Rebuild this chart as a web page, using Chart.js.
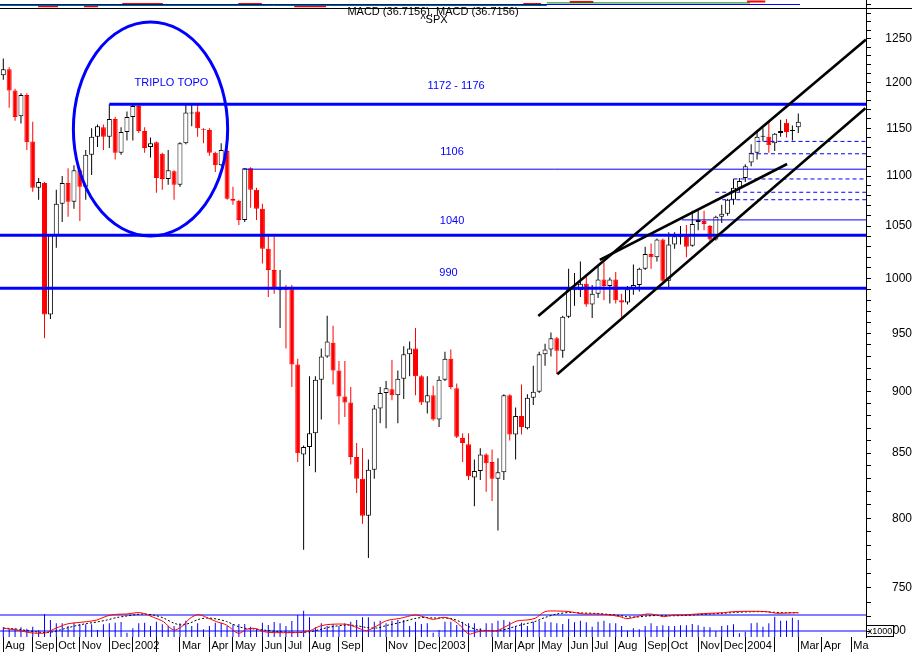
<!DOCTYPE html>
<html>
<head>
<meta charset="utf-8">
<title>^SPX weekly</title>
<style>
html,body{margin:0;padding:0;background:#ffffff;overflow:hidden;}
canvas{display:block;}
</style>
<script src="https://cdn.jsdelivr.net/npm/chart.js@4.4.1/dist/chart.umd.min.js"></script>
</head>
<body>
<canvas id="chart" width="912" height="652"></canvas>
<script>
// ---------------- DATA (weekly ^SPX, Aug 2001 - Mar 2004) ----------------
const openP = [1208,1215,1191,1163,1186,1136,1088,1093,967,1041,
 1072,1093,1074,1106,1089,1122,1141,1151,1141,1160,
 1124,1146,1162,1174,1147,1130,1135,1123,1097,1105,
 1091,1134,1166,1168,1149,1148,1124,1111,1126,1077,
 1075,1056,1108,1086,1067,1028,1008,989,990,990,
 923,849,855,866,910,930,942,918,896,891,
 847,830,802,837,886,899,902,897,911,932,
 937,913,891,897,877,910,928,903,862,857,
 831,836,849,843,830,835,897,865,880,870,
 895,900,932,936,946,935,965,989,989,995,
 976,986,999,993,999,980,978,990,994,1009,
 1023,1020,1037,998,1032,1039,1042,1031,1054,1055,
 1050,1037,1059,1062,1076,1088,1098,1114,1124,1141,
 1141,1134,1145,1156,1147,1151];
const highP = [1227,1217,1193,1188,1188,1157,1098,1094,1042,1086,
 1100,1108,1111,1108,1127,1150,1154,1154,1176,1162,
 1151,1168,1177,1176,1151,1140,1136,1124,1127,1106,
 1135,1176,1176,1176,1150,1150,1125,1134,1127,1089,
 1076,1108,1109,1088,1072,1040,1040,1008,994,994,
 928,856,913,913,937,966,957,926,926,904,
 858,854,845,889,904,909,927,918,939,943,
 955,914,913,905,913,934,936,907,866,866,
 845,854,850,853,846,898,898,887,906,898,
 922,934,941,951,947,966,1009,1005,1016,1002,
 994,1011,1015,1001,1006,986,993,1013,1010,1030,
 1033,1038,1038,1044,1044,1050,1051,1065,1065,1065,
 1051,1060,1071,1077,1097,1098,1112,1133,1148,1150,
 1157,1145,1159,1160,1153,1166];
const lowP = [1203,1172,1158,1155,1127,1084,1076,946,963,1029,
 1054,1059,1067,1055,1076,1101,1130,1127,1129,1117,
 1122,1137,1137,1145,1124,1119,1083,1086,1091,1076,
 1089,1133,1152,1141,1134,1121,1104,1110,1076,1071,
 1051,1054,1068,1056,1014,983,986,955,937,904,
 843,777,840,835,877,929,906,873,879,841,
 819,796,771,830,874,870,893,874,894,913,
 897,889,882,876,871,909,902,862,843,829,
 809,829,820,813,791,829,860,845,865,869,
 889,899,922,930,915,929,964,975,983,974,
 964,982,980,977,977,964,976,985,988,1008,
 1009,1016,997,992,1028,1032,1020,1030,1046,1046,
 1034,1036,1053,1060,1071,1084,1094,1110,1117,1136,
 1124,1126,1141,1140,1137,1145];
const closeP = [1215,1191,1162,1186,1135,1088,1094,967,1041,1072,
 1093,1074,1106,1089,1122,1141,1152,1141,1160,1124,
 1146,1162,1174,1147,1129,1134,1098,1097,1106,1091,
 1134,1167,1167,1150,1148,1124,1111,1127,1077,1075,
 1056,1108,1086,1067,1028,1008,990,990,989,923,
 850,855,866,910,930,943,918,896,891,847,
 830,802,837,886,899,903,897,911,932,937,
 913,891,897,877,910,928,904,863,858,832,
 836,849,842,830,835,897,865,880,871,895,
 900,932,936,946,935,965,990,990,995,976,
 986,999,993,999,980,978,990,994,1009,1023,
 1020,1037,998,1032,1040,1040,1030,1052,1056,1052,
 1037,1059,1062,1076,1088,1095,1110,1124,1141,1142,
 1132,1144,1147,1146,1148,1157];
const volume = [29,24,26,29,25,31,20,69,51,41,
 41,33,43,38,38,38,21,38,41,43,
 45,13,26,41,43,33,46,38,33,33,
 41,49,33,41,23,33,43,43,33,38,
 39,39,31,23,43,36,45,41,33,48,
 66,79,59,29,41,33,39,33,41,46,
 51,59,59,46,49,41,49,51,51,33,
 46,39,41,13,21,46,46,36,46,41,
 41,26,41,41,49,51,46,33,43,33,
 46,49,46,44,41,39,54,44,49,44,
 31,46,49,41,41,33,19,26,23,33,
 41,33,35,33,33,35,35,39,35,31,
 29,18,33,35,38,11,16,41,43,31,
 41,61,49,49,58,51];
const macdIdx = [0,1.1,2.8,4.5,6.2,7.4,8.5,9.6,10.8,12.5,14.2,15.9,17.6,19.3,21,22.7,23.8,25.5,27.2,28.9,
 30.3,31.7,33.1,34.5,36.2,37.9,39.9,41.3,42.7,44.2,46.4,48.7,50.4,52.1,53.8,55.5,58.3,60,61.7,63.4,
 65.1,67.4,69.9,71.3,73,74.7,76,77.5,79,80.4,82.1,83.8,85.5,87.2,88.9,90.3,92,94,96.2,98.5,
 100.8,103,104.7,105.9,107.6,109.3,111,112.1,113.8,115.5,117.7,120,122.3,124,126.8,129.6,131.3,133,135];
const macdLine = [5.3,4,0.7,-3.3,-4.7,-3.3,3.3,8.7,14,16.7,18.7,22,30,33.4,34,36.7,35.4,27.3,18.7,2,
 8.7,25.3,32.7,27.3,18.7,12,-4.7,3.3,5.3,-1.3,-3.3,-3.3,-2.7,0.7,10,13.3,13.3,7.3,0.7,10,
 20.7,25.3,32,28.7,23.3,27.3,24,12,-6,-2,0.7,0.7,10,20,22,25.3,38.7,40,38.7,34,
 34,32,28.7,24.7,28.7,34,32,28.7,32,32,34,35.4,36.7,38.7,39.4,38.7,35.4,36,36.7];
const signalLine = [6,5,3,0,-2.5,-3,-1.5,2,6,11,15,18,22,27,30,33,34,32,26,16,
 12,16,23,26,24,19,9,5,4,2,-1,-2.5,-3,-1.5,3,8,12,10.5,7,6,
 11,17,25,27,26,26,25,19,9,3,1,0.5,4,10,15,19,27,34,37,36,
 35,33,31,28.5,28,30,31,30.5,30.5,31,32.5,34,35.5,37,38.5,38.5,37,36.5,36.5];
const macdLevels = [0, 32];

const monthTickIdx = [0,5,9,13,18,22,26,30,35,39,44,48,52,57,61,65,70,74,79,83,87,91,96,100,104,109,113,118,122,126,131,135,139,144];
const monthTickLabels = ['Aug','Sep','Oct','Nov','Dec','2002','','Mar','Apr','May','Jun','Jul','Aug','Sep','','Nov','Dec','2003','','Mar','Apr','May','Jun','Jul','Aug','Sep','Oct','Nov','Dec','2004','','Mar','Apr','Ma'];
const priceTickVals = [720,730,740,750,760,770,780,790,800,810,820,830,840,850,860,870,880,890,900,910,920,930,940,950,960,970,980,990,
 1000,1010,1020,1030,1040,1050,1060,1070,1080,1090,1100,1110,1120,1130,1140,1150,1160,1170,1180,1190,1200,1210,1220,1230,1240,1250,1260,1270,1280,1290];
const priceLabelVals = [750,800,850,900,950,1000,1050,1100,1150,1200,1250];

// support / resistance levels
const levelValues   = [1176, 1107, 1041, 991, 1056, 1136, 1123, 1097, 1083.5, 1076];
const levelStartIdx = [18, 40.7, -0.56, -0.56, 115.2, 127.9, 126.8, 124, 120.9, 120.9];
// trend lines
const trendStartIdx = [90.85, 94.07, 101.3];
const trendStartVal = [965.7, 914.7, 1017.4];
const trendEndIdx   = [146.5, 146.4, 133.1];
const trendEndVal   = [1249, 1171.5, 1112.4];
// annotations
const annoText = ['TRIPLO TOPO', '1172 - 1176', '1106', '1040', '990'];
const annoIdx  = [28.56, 76.9, 76.2, 76.2, 75.6];
const annoVal  = [1200, 1196, 1125, 1055, 1005];
// ellipse "triplo topo": centre week, half-width in weeks, top value, bottom value
const ellipseIdx = [25.0, 13.1];
const ellipseVal = [1269.5, 1040.3];
// small MACD strip at the top
const topRedFrom  = [5.9, 13.7, 49.4, 20.2, 39.9, 88.3, 96.2, 126.3];
const topRedTo    = [9.3, 16.1, 54.8, 27.1, 43.9, 91.3, 100.2, 129.4];
const topRedLevel = [-1.8, -1.8, -1.8, 0.4, 0.4, 0.4, 2.5, 3];

// ---------------- CHART ----------------
const FONT = '"Liberation Sans", Arial, Helvetica, sans-serif';
Chart.defaults.font.family = FONT;
const X_MIN = -0.56, X_MAX = 146.5;
const Y_MIN = 716.4, Y_MAX = 1295.7;
const BLUE = '#0000ff', RED = '#ff0000';

const idx = openP.map((_, i) => i);
const up = idx.map(i => closeP[i] >= openP[i]);

const datasets = [];

// trend lines
trendStartIdx.forEach((s, k) => datasets.push({
  type: 'line', yAxisID: 'y', order: 1,
  data: [{x: s, y: trendStartVal[k]}, {x: trendEndIdx[k], y: trendEndVal[k]}],
  borderColor: '#000', borderWidth: 2.6, pointRadius: 0, tension: 0
}));

// levels
const levelStyle = [
  {w: 3}, {w: 1}, {w: 3}, {w: 3}, {w: 1},
  {w: 1, dash: [4, 3]}, {w: 1, dash: [4, 3]}, {w: 1, dash: [4, 3]}, {w: 1, dash: [4, 3]}, {w: 1, dash: [4, 3]}
];
levelValues.forEach((v, k) => datasets.push({
  type: 'line', yAxisID: 'y', order: 2,
  data: [{x: levelStartIdx[k], y: v}, {x: X_MAX, y: v}],
  borderColor: BLUE, borderWidth: levelStyle[k].w, borderDash: levelStyle[k].dash || [],
  pointRadius: 0, tension: 0
}));

// candle bodies
datasets.push({
  type: 'bar', yAxisID: 'y', order: 4, grouped: false,
  data: idx.map(i => ({x: i, y: [openP[i], closeP[i]]})),
  backgroundColor: idx.map(i => up[i] ? '#ffffff' : RED),
  borderColor: idx.map(i => up[i] ? '#000000' : RED),
  borderWidth: 1, borderSkipped: false, barThickness: 5, inflateAmount: 0
});
// candle wicks
datasets.push({
  type: 'bar', yAxisID: 'y', order: 5, grouped: false,
  data: idx.map(i => ({x: i, y: [lowP[i], highP[i]]})),
  backgroundColor: idx.map(i => up[i] ? '#000000' : RED),
  borderWidth: 0, barThickness: 1, inflateAmount: 0
});

// top strip
datasets.push({
  type: 'line', yAxisID: 'yTop', order: 6,
  data: [{x: X_MIN, y: 0}, {x: 135.3, y: 0}],
  borderColor: BLUE, borderWidth: 1, pointRadius: 0
});
datasets.push({
  type: 'line', yAxisID: 'yTop', order: 6, spanGaps: false,
  data: [{x: X_MIN, y: -1}, {x: 92.3, y: -1}, {x: 92.3, y: null}, {x: 92.3, y: 1.6}, {x: 126.8, y: 1.6}],
  borderColor: '#008000', borderWidth: 1, pointRadius: 0
});
(function () {
  const pts = [];
  topRedFrom.forEach((f, k) => {
    pts.push({x: f, y: topRedLevel[k]}, {x: topRedTo[k], y: topRedLevel[k]}, {x: topRedTo[k], y: null});
  });
  pts.sort((a, b) => a.x - b.x || (a.y === null ? 1 : -1));
  datasets.push({
    type: 'line', yAxisID: 'yTop', order: 6, spanGaps: false,
    data: (function () {
      const out = [];
      topRedFrom.map((f, k) => k).sort((a, b) => topRedFrom[a] - topRedFrom[b]).forEach(k => {
        out.push({x: topRedFrom[k], y: topRedLevel[k]}, {x: topRedTo[k], y: topRedLevel[k]}, {x: topRedTo[k], y: null});
      });
      return out;
    })(),
    borderColor: RED, borderWidth: 2, pointRadius: 0
  });
})();

// MACD panel
datasets.push({
  type: 'line', yAxisID: 'yMacd', order: 7,
  data: macdIdx.map((v, k) => ({x: v, y: macdLine[k]})),
  borderColor: RED, borderWidth: 1, pointRadius: 0, tension: 0.3
});
datasets.push({
  type: 'line', yAxisID: 'yMacd', order: 7,
  data: macdIdx.map((v, k) => ({x: v, y: signalLine[k]})),
  borderColor: '#000', borderWidth: 1, borderDash: [2, 2], pointRadius: 0, tension: 0.3
});
macdLevels.forEach(v => datasets.push({
  type: 'line', yAxisID: 'yMacd', order: 8,
  data: [{x: X_MIN, y: v}, {x: X_MAX, y: v}],
  borderColor: BLUE, borderWidth: 1, pointRadius: 0
}));
// volume
datasets.push({
  type: 'bar', yAxisID: 'yVol', order: 9, grouped: false,
  data: idx.map(i => ({x: i, y: volume[i]})),
  backgroundColor: BLUE, borderWidth: 0, barThickness: 1, inflateAmount: 0
});

const overlay = {
  id: 'overlay',
  afterDatasetsDraw(chart) {
    const {ctx, scales: {x, y}} = chart;
    ctx.save();
    const cx = x.getPixelForValue(ellipseIdx[0]);
    const rx = x.getPixelForValue(ellipseIdx[0] + ellipseIdx[1]) - cx;
    const top = y.getPixelForValue(ellipseVal[0]);
    const bot = y.getPixelForValue(ellipseVal[1]);
    ctx.beginPath();
    ctx.ellipse(cx, (top + bot) / 2, rx, (bot - top) / 2, 0, 0, Math.PI * 2);
    ctx.strokeStyle = BLUE; ctx.lineWidth = 3; ctx.stroke();
    ctx.fillStyle = BLUE;
    ctx.font = '11px ' + FONT;
    ctx.textAlign = 'center'; ctx.textBaseline = 'middle';
    annoText.forEach((t, k) => ctx.fillText(t, x.getPixelForValue(annoIdx[k]), y.getPixelForValue(annoVal[k])));
    ctx.restore();
  },
  afterDraw(chart) {
    const {ctx, width} = chart;
    ctx.save();
    ctx.strokeStyle = '#000'; ctx.lineWidth = 1;
    ctx.beginPath(); ctx.moveTo(0, 8.5); ctx.lineTo(width, 8.5); ctx.stroke();
    ctx.fillStyle = '#000';
    ctx.font = '11px ' + FONT;
    ctx.textAlign = 'center'; ctx.textBaseline = 'middle';
    ctx.fillText('MACD (36.7156), MACD (36.7156)', 433, 11.5);
    ctx.fillText('^SPX', 434, 19.5);
    ctx.strokeRect(866.5, 625.5, 27, 11);
    ctx.font = '9px ' + FONT;
    ctx.fillText('x1000', 880, 631.5);
    ctx.font = '12px ' + FONT;
    ctx.textAlign = 'right';
    ctx.fillText('00', 906, 630.5);
    ctx.restore();
  }
};

new Chart(document.getElementById('chart'), {
  type: 'bar',
  data: {datasets},
  options: {
    responsive: false, animation: false, devicePixelRatio: 1,
    layout: {padding: 0, autoPadding: false},
    plugins: {legend: {display: false}, tooltip: {enabled: false}},
    scales: {
      x: {
        type: 'linear', position: 'bottom', min: X_MIN, max: X_MAX, offset: false,
        afterBuildTicks: s => { s.ticks = monthTickIdx.map(v => ({value: v})); },
        afterFit: s => { s.height = 15; s.paddingLeft = 0; s.paddingRight = 0; },
        ticks: {
          autoSkip: false, maxRotation: 0, minRotation: 0, align: 'start', labelOffset: 2, padding: -13,
          color: '#000', font: {size: 11, family: FONT},
          callback: (v, i) => monthTickLabels[i]
        },
        grid: {drawOnChartArea: false, drawTicks: true, tickLength: 15, color: '#000', lineWidth: 1, offset: false},
        border: {display: false}
      },
      y: {
        type: 'logarithmic', position: 'right', min: Y_MIN, max: Y_MAX,
        afterBuildTicks: s => { s.ticks = priceTickVals.map(v => ({value: v})); },
        afterFit: s => { s.width = 46; s.paddingTop = 0; s.paddingBottom = 0; },
        ticks: {
          autoSkip: false, crossAlign: 'far', padding: 8, color: '#000', font: {size: 12, family: FONT},
          callback: v => priceLabelVals.includes(v) ? String(v) : ''
        },
        grid: {drawOnChartArea: false, drawTicks: true, tickLength: 5, color: '#000', lineWidth: 1},
        border: {display: true, color: '#000', width: 1}
      },
      yVol: {type: 'linear', display: false, min: 0, max: 1911},
      yMacd: {type: 'linear', display: false, min: -12, max: 1262},
      yTop: {type: 'linear', display: false, min: -632.5, max: 4.5}
    }
  },
  plugins: [overlay]
});
</script>
</body>
</html>
